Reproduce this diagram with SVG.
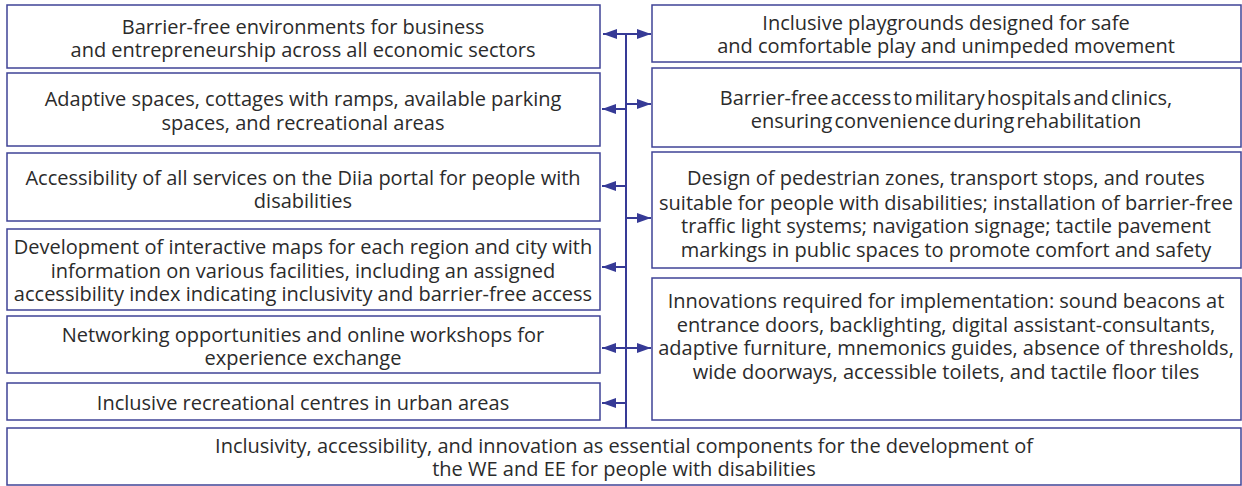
<svg xmlns="http://www.w3.org/2000/svg" width="1242" height="486" viewBox="0 0 1242 486">
<defs>
<marker id="ah" markerUnits="userSpaceOnUse" markerWidth="15" markerHeight="11" refX="14" refY="5" orient="auto-start-reverse">
<path d="M0,0 L14,5 L0,10 z" fill="#363a96"/>
</marker>
<style>
.box{fill:#ffffff;stroke:#3f4396;stroke-width:1.5}
.t{font-family:"Open Sans","Noto Sans",sans-serif;font-size:20px;fill:#2b2b2b;text-anchor:middle}
.c{stroke:#363a96;stroke-width:2;fill:none}
</style>
</defs>
<rect width="1242" height="486" fill="#ffffff"/>
<g id="L1"><rect class="box" x="7" y="5" width="593" height="63"/>
<text class="t" x="303" y="34">Barrier-free environments for business</text>
<text class="t" x="303" y="57">and entrepreneurship across all economic sectors</text></g>
<g id="L2"><rect class="box" x="7" y="73" width="593" height="73"/>
<text class="t" x="303" y="106">Adaptive spaces, cottages with ramps, available parking</text>
<text class="t" x="303" y="130">spaces, and recreational areas</text></g>
<g id="L3"><rect class="box" x="7" y="153" width="593" height="68"/>
<text class="t" x="303" y="185">Accessibility of all services on the Diia portal for people with</text>
<text class="t" x="303" y="208">disabilities</text></g>
<g id="L4"><rect class="box" x="7" y="229" width="593" height="81"/>
<text class="t" x="303" y="254">Development of interactive maps for each region and city with</text>
<text class="t" x="303" y="278">information on various facilities, including an assigned</text>
<text class="t" x="303" y="301">accessibility index indicating inclusivity and barrier-free access</text></g>
<g id="L5"><rect class="box" x="7" y="316" width="593" height="57"/>
<text class="t" x="303" y="342">Networking opportunities and online workshops for</text>
<text class="t" x="303" y="365">experience exchange</text></g>
<g id="L6"><rect class="box" x="7" y="383" width="593" height="37"/>
<text class="t" x="303" y="410">Inclusive recreational centres in urban areas</text></g>
<g id="R1"><rect class="box" x="652" y="5" width="589" height="57"/>
<text class="t" x="946" y="30">Inclusive playgrounds designed for safe</text>
<text class="t" x="946" y="53">and comfortable play and unimpeded movement</text></g>
<g id="R2"><rect class="box" x="652" y="68" width="589" height="79"/>
<text class="t" x="946" y="105" word-spacing="-3">Barrier-free access to military hospitals and clinics,</text>
<text class="t" x="946" y="128" word-spacing="-3">ensuring convenience during rehabilitation</text></g>
<g id="R3"><rect class="box" x="652" y="152" width="589" height="116"/>
<text class="t" x="946" y="185">Design of pedestrian zones, transport stops, and routes</text>
<text class="t" x="946" y="210">suitable for people with disabilities; installation of barrier-free</text>
<text class="t" x="946" y="233">traffic light systems; navigation signage; tactile pavement</text>
<text class="t" x="946" y="257">markings in public spaces to promote comfort and safety</text></g>
<g id="R4"><rect class="box" x="652" y="278" width="589" height="142"/>
<text class="t" x="946" y="308">Innovations required for implementation: sound beacons at</text>
<text class="t" x="946" y="332">entrance doors, backlighting, digital assistant-consultants,</text>
<text class="t" x="946" y="355">adaptive furniture, mnemonics guides, absence of thresholds,</text>
<text class="t" x="946" y="379">wide doorways, accessible toilets, and tactile floor tiles</text></g>
<g id="B"><rect class="box" x="7" y="428" width="1234" height="57"/>
<text class="t" x="624" y="453">Inclusivity, accessibility, and innovation as essential components for the development of</text>
<text class="t" x="624" y="476">the WE and EE for people with disabilities</text></g>
<g id="connectors">
<line class="c" x1="626" y1="34" x2="626" y2="428"/>
<line class="c" x1="603" y1="34" x2="651" y2="34" marker-start="url(#ah)" marker-end="url(#ah)"/>
<line class="c" x1="626" y1="109" x2="602" y2="109" marker-end="url(#ah)"/>
<line class="c" x1="626" y1="104" x2="651" y2="104" marker-end="url(#ah)"/>
<line class="c" x1="626" y1="186" x2="602" y2="186" marker-end="url(#ah)"/>
<line class="c" x1="626" y1="218" x2="651" y2="218" marker-end="url(#ah)"/>
<line class="c" x1="626" y1="267" x2="602" y2="267" marker-end="url(#ah)"/>
<line class="c" x1="602" y1="348" x2="651" y2="348" marker-start="url(#ah)" marker-end="url(#ah)"/>
<line class="c" x1="626" y1="403" x2="602" y2="403" marker-end="url(#ah)"/>
</g>
</svg>
